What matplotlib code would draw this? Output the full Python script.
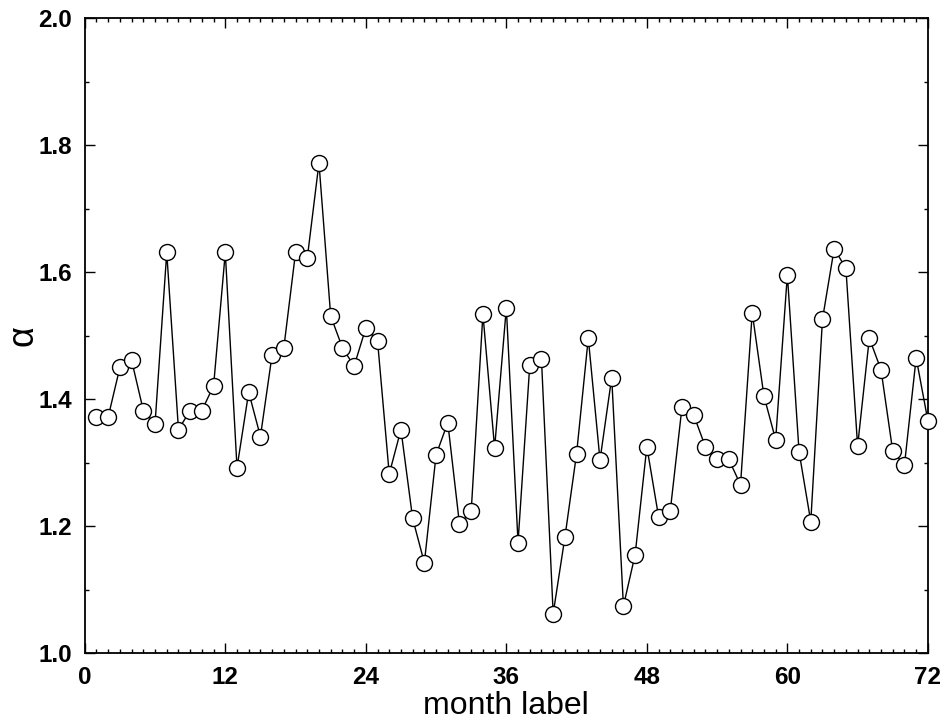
import matplotlib
matplotlib.use("Agg")
import matplotlib.pyplot as plt
from matplotlib.ticker import MultipleLocator

months = list(range(1, 73))
alpha = [1.372, 1.372, 1.450, 1.461, 1.382, 1.361, 1.631, 1.352, 1.382, 1.382,
         1.421, 1.631, 1.292, 1.411, 1.341, 1.470, 1.481, 1.631, 1.622, 1.772,
         1.531, 1.481, 1.452, 1.512, 1.492, 1.282, 1.352, 1.212, 1.142, 1.312,
         1.363, 1.203, 1.223, 1.534, 1.323, 1.544, 1.174, 1.453, 1.463, 1.062,
         1.182, 1.314, 1.496, 1.304, 1.434, 1.074, 1.155, 1.325, 1.215, 1.224,
         1.387, 1.375, 1.325, 1.305, 1.305, 1.265, 1.536, 1.405, 1.336, 1.596,
         1.317, 1.207, 1.526, 1.637, 1.606, 1.326, 1.496, 1.446, 1.318, 1.296,
         1.465, 1.366]
xticks = [0, 12, 24, 36, 48, 60, 72]
yticks = [1.0, 1.2, 1.4, 1.6, 1.8, 2.0]

plt.rcParams['font.family'] = ['Liberation Sans', 'DejaVu Sans']

fig = plt.figure(figsize=(9.42, 7.28), dpi=100)
ax = fig.add_axes([0.090, 0.103, 0.895, 0.872])

ax.plot(months, alpha, color='black', linewidth=1.0, marker='o',
        markersize=11.5, markerfacecolor='white', markeredgecolor='black',
        markeredgewidth=1.0, clip_on=False, zorder=3)

ax.set_xlim(0, 72)
ax.set_ylim(1.0, 2.0)
ax.set_xticks(xticks)
ax.set_yticks(yticks)
ax.set_yticklabels([f"{v:.1f}" for v in yticks])
ax.xaxis.set_minor_locator(MultipleLocator(1))
ax.yaxis.set_minor_locator(MultipleLocator(0.1))
ax.tick_params(which='both', direction='in', top=True, right=True, width=1.0)
ax.tick_params(which='major', length=7, labelsize=17.5, pad=9)
ax.tick_params(which='minor', length=3)
for lab in ax.get_xticklabels() + ax.get_yticklabels():
    lab.set_fontweight('bold')
for sp in ax.spines.values():
    sp.set_linewidth(1.3)

ax.set_xlabel('month label', fontsize=23, labelpad=2)
ax.set_ylabel('α', fontsize=26)
ax.yaxis.set_label_coords(-0.052, 0.50)

fig.savefig('out.png', dpi=100)
